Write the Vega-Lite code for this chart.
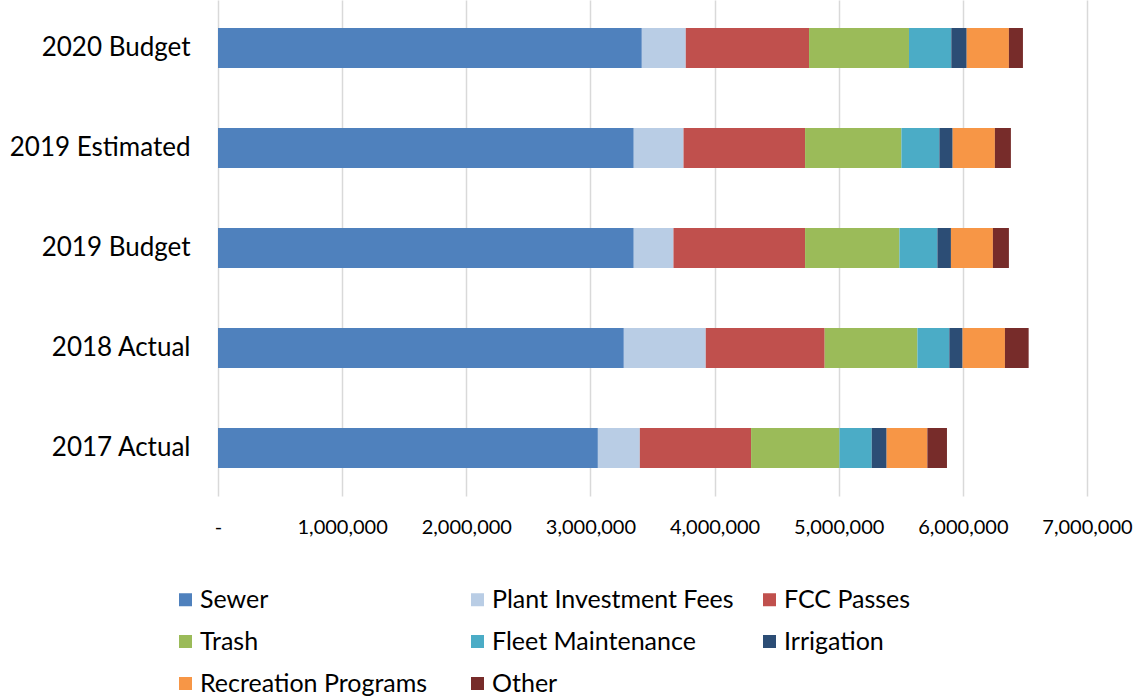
{
  "$schema": "https://vega.github.io/schema/vega-lite/v6.json",
  "width": 869,
  "height": 496,
  "autosize": {"type": "none"},
  "padding": {"left": 218, "top": 0, "right": 48, "bottom": 202},
  "background": "white",
  "config": {
    "view": {"stroke": null},
    "font": "Lato"
  },
  "data": {
    "values": [
      {"year": "2020 Budget", "cat": "Sewer", "amount": 3414000},
      {"year": "2020 Budget", "cat": "Plant Investment Fees", "amount": 354000},
      {"year": "2020 Budget", "cat": "FCC Passes", "amount": 993000},
      {"year": "2020 Budget", "cat": "Trash", "amount": 805000},
      {"year": "2020 Budget", "cat": "Fleet Maintenance", "amount": 341000},
      {"year": "2020 Budget", "cat": "Irrigation", "amount": 124000},
      {"year": "2020 Budget", "cat": "Recreation Programs", "amount": 340000},
      {"year": "2020 Budget", "cat": "Other", "amount": 113000},
      {"year": "2019 Estimated", "cat": "Sewer", "amount": 3349000},
      {"year": "2019 Estimated", "cat": "Plant Investment Fees", "amount": 401000},
      {"year": "2019 Estimated", "cat": "FCC Passes", "amount": 979000},
      {"year": "2019 Estimated", "cat": "Trash", "amount": 776000},
      {"year": "2019 Estimated", "cat": "Fleet Maintenance", "amount": 306000},
      {"year": "2019 Estimated", "cat": "Irrigation", "amount": 107000},
      {"year": "2019 Estimated", "cat": "Recreation Programs", "amount": 340000},
      {"year": "2019 Estimated", "cat": "Other", "amount": 129000},
      {"year": "2019 Budget", "cat": "Sewer", "amount": 3349000},
      {"year": "2019 Budget", "cat": "Plant Investment Fees", "amount": 320000},
      {"year": "2019 Budget", "cat": "FCC Passes", "amount": 1060000},
      {"year": "2019 Budget", "cat": "Trash", "amount": 760000},
      {"year": "2019 Budget", "cat": "Fleet Maintenance", "amount": 306000},
      {"year": "2019 Budget", "cat": "Irrigation", "amount": 109000},
      {"year": "2019 Budget", "cat": "Recreation Programs", "amount": 338000},
      {"year": "2019 Budget", "cat": "Other", "amount": 129000},
      {"year": "2018 Actual", "cat": "Sewer", "amount": 3269000},
      {"year": "2018 Actual", "cat": "Plant Investment Fees", "amount": 660000},
      {"year": "2018 Actual", "cat": "FCC Passes", "amount": 958000},
      {"year": "2018 Actual", "cat": "Trash", "amount": 747000},
      {"year": "2018 Actual", "cat": "Fleet Maintenance", "amount": 257000},
      {"year": "2018 Actual", "cat": "Irrigation", "amount": 107000},
      {"year": "2018 Actual", "cat": "Recreation Programs", "amount": 341000},
      {"year": "2018 Actual", "cat": "Other", "amount": 191000},
      {"year": "2017 Actual", "cat": "Sewer", "amount": 3060000},
      {"year": "2017 Actual", "cat": "Plant Investment Fees", "amount": 338000},
      {"year": "2017 Actual", "cat": "FCC Passes", "amount": 896000},
      {"year": "2017 Actual", "cat": "Trash", "amount": 712000},
      {"year": "2017 Actual", "cat": "Fleet Maintenance", "amount": 260000},
      {"year": "2017 Actual", "cat": "Irrigation", "amount": 120000},
      {"year": "2017 Actual", "cat": "Recreation Programs", "amount": 328000},
      {"year": "2017 Actual", "cat": "Other", "amount": 158000}
    ]
  },
  "transform": [
    {"calculate": "indexof(['Sewer','Plant Investment Fees','FCC Passes','Trash','Fleet Maintenance','Irrigation','Recreation Programs','Other'], datum.cat)", "as": "ord"}
  ],
  "mark": {"type": "bar"},
  "encoding": {
    "y": {
      "field": "year",
      "type": "nominal",
      "sort": ["2020 Budget", "2019 Estimated", "2019 Budget", "2018 Actual", "2017 Actual"],
      "scale": {"paddingInner": 0.6, "paddingOuter": 0.28},
      "axis": {
        "title": null,
        "domain": false,
        "ticks": false,
        "labelFont": "Lato",
        "labelFontSize": 26,
        "labelColor": "#000000",
        "labelPadding": 28,
        "labelLimit": 400
      }
    },
    "x": {
      "field": "amount",
      "type": "quantitative",
      "stack": "zero",
      "scale": {"domain": [0, 7000000], "nice": false},
      "axis": {
        "title": null,
        "values": [0, 1000000, 2000000, 3000000, 4000000, 5000000, 6000000, 7000000],
        "labelExpr": "datum.value == 0 ? '-' : format(datum.value, ',')",
        "domain": false,
        "ticks": false,
        "grid": true,
        "gridColor": "#d9d9d9",
        "gridWidth": 1.5,
        "labelFont": "Lato",
        "labelFontSize": 20,
        "labelColor": "#000000",
        "labelPadding": 21,
        "labelFlush": false
      }
    },
    "color": {
      "field": "cat",
      "type": "nominal",
      "scale": {
        "domain": ["Sewer", "Trash", "Recreation Programs", "Plant Investment Fees", "Fleet Maintenance", "Other", "FCC Passes", "Irrigation"],
        "range": ["#4F81BD", "#9BBB59", "#F79646", "#B9CDE5", "#4BACC6", "#772C2A", "#C0504D", "#2C4D75"]
      },
      "legend": {
        "title": null,
        "orient": "none",
        "legendX": -45,
        "legendY": 587,
        "columns": 3,
        "gridAlign": "all",
        "columnPadding": 23,
        "rowPadding": 16,
        "symbolType": "square",
        "symbolSize": 169,
        "symbolStrokeWidth": 0,
        "labelFont": "Lato",
        "labelFontSize": 25,
        "labelColor": "#000000",
        "labelOffset": 2,
        "labelLimit": 400,
        "padding": 0
      }
    },
    "order": {"field": "ord", "type": "quantitative"}
  }
}
